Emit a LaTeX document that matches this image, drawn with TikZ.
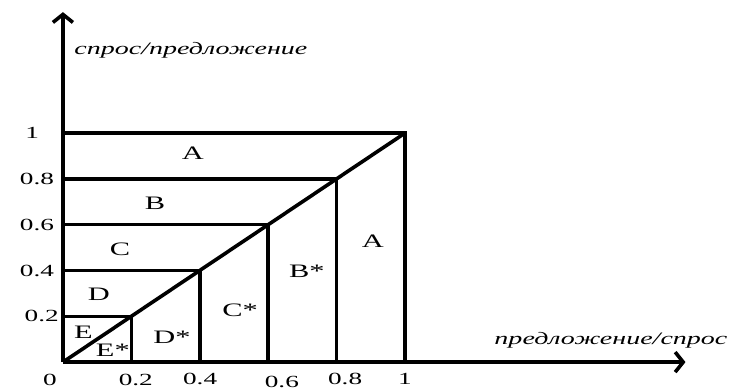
\documentclass[tikz,border=0pt]{standalone}
\usepackage{fontspec}
\setmainfont{Liberation Serif}
\usetikzlibrary{arrows.meta}

\newcommand*{\xmin}{-0.184}
\newcommand*{\xmax}{1.82}
\newcommand*{\ymin}{-0.122}
\newcommand*{\ymax}{1.528}

\begin{document}
\begin{tikzpicture}
[
	x=342pt,
	y=229pt,
	line width=3.6pt,
	axis/.style={-{Straight Barb[length=8pt,width=20pt]}},
	ticklbl/.style={font=\fontsize{17}{17}\selectfont,xscale=1.6,inner sep=0pt},
	arealbl/.style={font=\fontsize{19}{19}\selectfont,xscale=1.6,inner sep=0pt},
	axislbl/.style={font=\fontsize{17.5}{17.5}\selectfont\itshape,xscale=1.6,inner sep=0pt}
]

	\useasboundingbox (\xmin,\ymin) rectangle (1.956,1.581);

	% axes
	\coordinate (o) at (0,0);
	\coordinate (xend) at (\xmax,0);
	\coordinate (yend) at (0,\ymax);
	\draw[axis] (o) -- (xend);
	\draw[axis] (o) -- (yend);
	\node[axislbl] (ylabel) at (0.374,1.362) {спрос/предложение};
	\node[axislbl] (xlabel) at (1.602,0.096) {предложение/спрос};

	% ticks
	\node[ticklbl] (y10) at (-0.090,1) {1};
	\node[ticklbl] (y08) at (-0.076,0.8) {0.8};
	\node[ticklbl] (y06) at (-0.076,0.6) {0.6};
	\node[ticklbl] (y04) at (-0.076,0.4) {0.4};
	\node[ticklbl] (y02) at (-0.062,0.2) {0.2};
	\node[ticklbl] (x00) at (-0.038,-0.079) {0};
	\node[ticklbl] (x02) at (0.213,-0.079) {0.2};
	\node[ticklbl] (x04) at (0.401,-0.072) {0.4};
	\node[ticklbl] (x06) at (0.640,-0.087) {0.6};
	\node[ticklbl] (x08) at (0.825,-0.072) {0.8};
	\node[ticklbl] (x10) at (1.0,-0.072) {1};

	% graph
	\coordinate (d10) at (1,1);
	\draw (o) -- (d10);
	\foreach \v in {0.2,0.4,0.6,0.8}
	{
		\draw (0,\v) -- (\v,\v) -- (\v,0);
	}
	\draw (0,1) -- (d10) -- (1,0);

	% areas
	\node[arealbl] (atop) at (0.380,0.913) {A};
	\node[arealbl] (b) at (0.269,0.694) {B};
	\node[arealbl] (c) at (0.167,0.493) {C};
	\node[arealbl] (d) at (0.105,0.297) {D};
	\node[arealbl] (e) at (0.060,0.130) {E};
	\node[arealbl] (estar) at (0.146,0.052) {E*};
	\node[arealbl] (dstar) at (0.319,0.110) {D*};
	\node[arealbl] (cstar) at (0.518,0.227) {C*};
	\node[arealbl] (bstar) at (0.713,0.397) {B*};
	\node[arealbl] (aright) at (0.906,0.528) {A};

\end{tikzpicture}
\end{document}
